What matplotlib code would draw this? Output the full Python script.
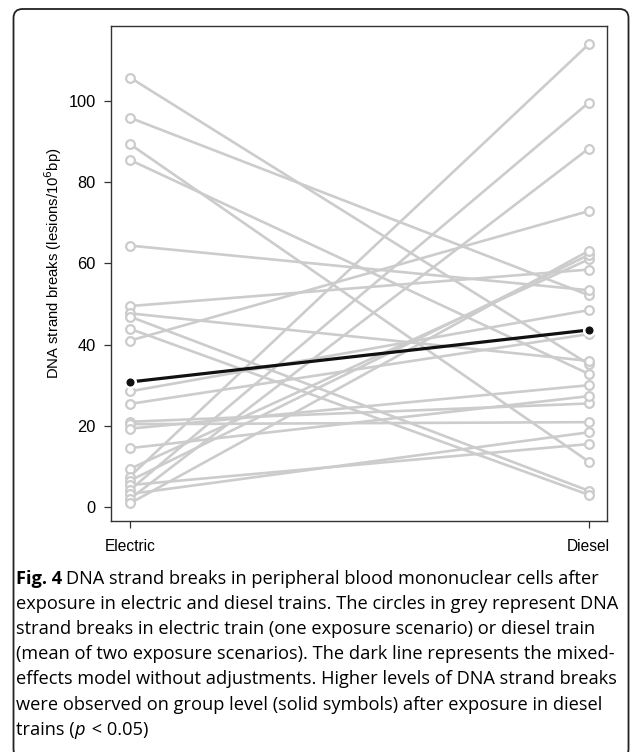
"""DNA strand breaks: electric vs diesel train exposure (paired lines + mixed-model fit)."""

import matplotlib

matplotlib.use("Agg")
import matplotlib.pyplot as plt  # noqa: E402
from matplotlib import font_manager  # noqa: E402
from matplotlib.patches import FancyBboxPatch  # noqa: E402
from matplotlib.transforms import IdentityTransform  # noqa: E402

# per-subject values (lesions / 10^6 bp)
electric = [105.8, 95.9, 89.4, 85.5, 64.4, 49.5, 47.7, 46.9, 43.9, 41.0, 28.5, 25.4,
            21.0, 20.4, 19.3, 14.5, 9.4, 7.5, 6.5, 5.4, 4.2, 3.2, 2.0, 0.9]
diesel = [35.2, 52.2, 11.2, 32.8, 53.4, 58.5, 36.0, 4.0, 3.0, 72.9, 48.5, 42.6,
          25.5, 20.9, 30.0, 27.3, 61.0, 114.0, 62.1, 15.5, 99.6, 18.4, 88.3, 63.1]
# group level (mixed-effects model, no adjustment)
model = [30.8, 43.6]
groups = ["Electric", "Diesel"]
yticks = [0, 20, 40, 60, 80, 100]

caption_bold = "Fig. 4"
caption_lines = [
    "DNA strand breaks in peripheral blood mononuclear cells after",
    "exposure in electric and diesel trains. The circles in grey represent DNA",
    "strand breaks in electric train (one exposure scenario) or diesel train",
    "(mean of two exposure scenarios). The dark line represents the mixed-",
    "effects model without adjustments. Higher levels of DNA strand breaks",
    "were observed on group level (solid symbols) after exposure in diesel",
]
caption_last = ("trains (", "p", " < 0.05)")

GREY = "#cccccc"
plt.rcParams["font.family"] = ["Liberation Sans", "DejaVu Sans"]

fig = plt.figure(figsize=(6.35, 7.52), dpi=100)
ax = fig.add_axes([0.1748, 0.3072, 0.7811, 0.6582])

xs = [1, 2]
for e, d in zip(electric, diesel):
    ax.plot(xs, [e, d], color=GREY, lw=1.9, solid_capstyle="butt", zorder=1)
ax.plot([1] * len(electric), electric, ls="none", marker="o", ms=6.3, mfc="white",
        mec=GREY, mew=1.6, zorder=2)
ax.plot([2] * len(diesel), diesel, ls="none", marker="o", ms=6.3, mfc="white",
        mec=GREY, mew=1.6, zorder=2)

# dark model line with gaps at the solid points (R type="b" look)
ax.plot(xs, model, color="#111111", lw=2.3, zorder=3)
ax.plot(xs, model, ls="none", marker="o", ms=8.5, mfc="white", mec="white", zorder=4)
ax.plot(xs, model, ls="none", marker="o", ms=4.8, mfc="#111111", mec="#111111", zorder=5)

ax.set_xlim(0.9586, 2.04)
ax.set_ylim(-3.45, 118.5)
ax.set_xticks(xs)
ax.set_xticklabels(groups, fontsize=11.2)
ax.set_yticks(yticks)
ax.set_yticklabels([str(t) for t in yticks], fontsize=11.8)
ax.tick_params(length=5, width=0.9, color="#333333", pad=6)
ax.tick_params(axis="x", pad=8)
for s in ax.spines.values():
    s.set_linewidth(1.0)
    s.set_color("#333333")
ax.set_ylabel("DNA strand breaks (lesions/10$^6$bp)", fontsize=10.7)
ax.yaxis.set_label_coords(-0.095, 0.52)

# rounded frame around the figure panel (pixels)
frame = FancyBboxPatch((13.5, -6), 615, 752 - 9 + 6, boxstyle="round,pad=0,rounding_size=9",
                       transform=IdentityTransform(), fill=False, lw=1.3, ec="#222222")
fig.patches.append(frame)

# caption: narrow sans, size fitted so the longest line spans the panel width
names = {f.name for f in font_manager.fontManager.ttflist}
cap_font = ["Liberation Sans Narrow" if "Liberation Sans Narrow" in names else "Open Sans",
            "DejaVu Sans"]
renderer = fig.canvas.get_renderer()
probe = fig.text(0, 0, caption_lines[1], fontsize=10, family=cap_font)
w10 = probe.get_window_extent(renderer).width
probe.remove()
cap_size = 10 * 604 / w10

x0 = 16 / 635
y_first = 1 - 584 / 752
step = 25.1 / 752
t = fig.text(x0, y_first, caption_bold, fontsize=cap_size, fontweight="bold",
             family=cap_font, va="baseline")
bb = t.get_window_extent(renderer)
fig.text(bb.x1 / 635 + 4 / 635, y_first, caption_lines[0], fontsize=cap_size,
         family=cap_font, va="baseline")
for i, line in enumerate(caption_lines[1:], start=1):
    fig.text(x0, y_first - i * step, line, fontsize=cap_size, family=cap_font, va="baseline")
yl = y_first - len(caption_lines) * step
xcur = x0
for j, part in enumerate(caption_last):
    tt = fig.text(xcur, yl, part, fontsize=cap_size, family=cap_font, va="baseline",
                  style="italic" if j == 1 else "normal")
    xcur = tt.get_window_extent(renderer).x1 / 635 + (1.5 / 635 if j == 1 else 0)

fig.savefig("out.png", dpi=100)
plt.close(fig)
